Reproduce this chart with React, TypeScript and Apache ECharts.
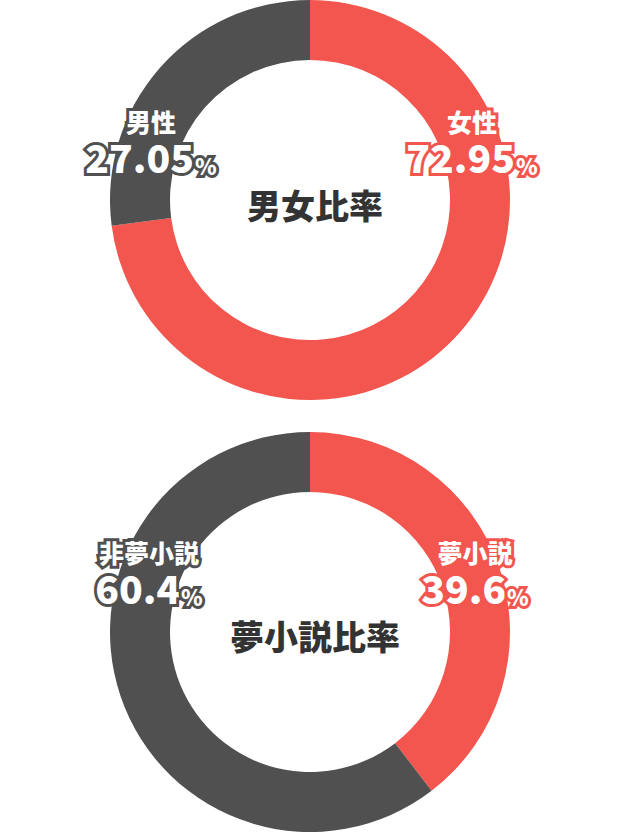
import React, { useEffect, useRef } from "react";
import * as echarts from "echarts";

const RED = "#F2564E";
const GRAY = "#505050";

const genderNames = ["女性", "男性"];
const genderValues = [72.95, 27.05];
const genderTitle = "男女比率";

const novelNames = ["夢小説", "非夢小説"];
const novelValues = [39.6, 60.4];
const novelTitle = "夢小説比率";

const sliceColors = [RED, GRAY];

// label anchor positions (layout only) per [seriesIndex][dataIndex]
const labelPos = [
  [
    [472, 141],
    [151, 141],
  ],
  [
    [475, 572],
    [149, 572],
  ],
];

const FONT = "'Noto Sans CJK JP', 'Noto Sans', sans-serif";

function makeSeries(names: string[], values: number[], cy: number) {
  return {
    type: "pie",
    center: [310, cy],
    radius: [140, 200],
    startAngle: 90,
    clockwise: true,
    silent: true,
    avoidLabelOverlap: false,
    labelLine: { show: false },
    data: names.map((n, i) => ({
      name: n,
      value: values[i],
      itemStyle: { color: sliceColors[i] },
      label: {
        rich: {
          n: {
            fontSize: 25,
            fontWeight: 900,
            color: "#fff",
            fontFamily: FONT,
            lineHeight: 30,
            textBorderColor: sliceColors[i],
            textBorderWidth: 6,
          },
          v: {
            fontSize: 39,
            fontWeight: 900,
            color: "#fff",
            fontFamily: FONT,
            lineHeight: 40,
            textBorderColor: sliceColors[i],
            textBorderWidth: 6,
          },
          p: {
            fontSize: 22,
            fontWeight: 900,
            color: "#fff",
            fontFamily: FONT,
            lineHeight: 40,
            verticalAlign: "bottom",
            padding: [8, 0, 0, 1],
            textBorderColor: sliceColors[i],
            textBorderWidth: 6,
          },
        },
      },
    })),
    label: {
      show: true,
      position: "inside",
      formatter: "{n|{b}}\n{v|{c}}{p|%}",
    },
    labelLayout: (params: any) => {
      const p = labelPos[params.seriesIndex][params.dataIndex];
      return { x: p[0], y: p[1], align: "center", verticalAlign: "middle" };
    },
  };
}

export default function App() {
  const ref = useRef<HTMLDivElement>(null);
  useEffect(() => {
    if (!ref.current) return;
    const chart = echarts.init(ref.current, undefined, { renderer: "svg" });
    chart.setOption({
      animation: false,
      backgroundColor: "#fff",
      title: [
        {
          text: genderTitle,
          left: 310,
          top: 182,
          textAlign: "center",
          textStyle: { fontSize: 34, fontWeight: 900, color: "#333", fontFamily: FONT },
        },
        {
          text: novelTitle,
          left: 310,
          top: 613,
          textAlign: "center",
          textStyle: { fontSize: 34, fontWeight: 900, color: "#333", fontFamily: FONT },
        },
      ],
      series: [
        makeSeries(genderNames, genderValues, 200),
        makeSeries(novelNames, novelValues, 632),
      ],
    });
    return () => chart.dispose();
  }, []);
  return (
    <div
      ref={ref}
      style={{ position: "fixed", left: 0, top: 0, width: 622, height: 833 }}
    />
  );
}
